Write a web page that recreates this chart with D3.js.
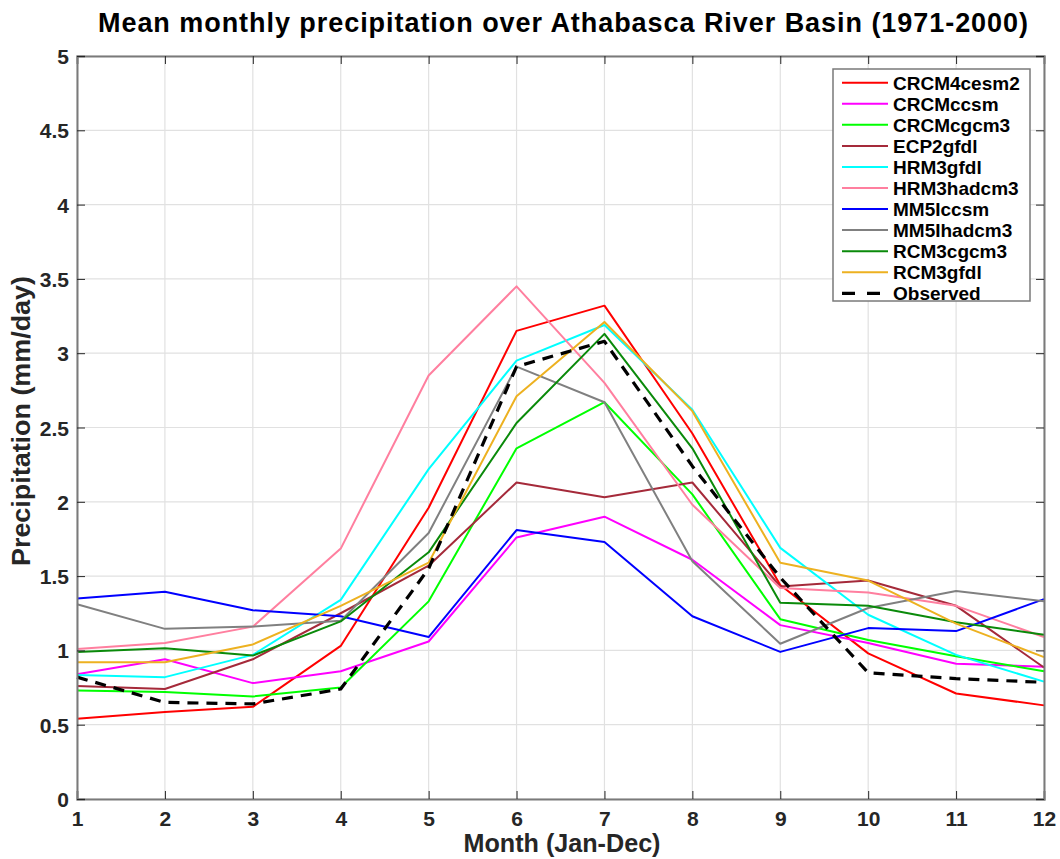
<!DOCTYPE html>
<html>
<head>
<meta charset="utf-8">
<script src="https://cdn.jsdelivr.net/npm/d3@7"></script>
<style>
  html, body { margin: 0; padding: 0; background: #fff; }
  svg text { font-family: "Liberation Sans", Arial, Helvetica, sans-serif; font-weight: bold; }
</style>
</head>
<body>
<svg id="chart" width="1060" height="859"></svg>
<script>
// Months 1..12
const months = [1, 2, 3, 4, 5, 6, 7, 8, 9, 10, 11, 12];

// Mean monthly precipitation (mm/day), 1971-2000
const CRCM4cesm2 = [0.54, 0.585, 0.62, 1.03, 1.96, 3.15, 3.32, 2.46, 1.44, 0.98, 0.71, 0.63];
const CRCMccsm   = [0.84, 0.94, 0.78, 0.86, 1.06, 1.76, 1.90, 1.61, 1.17, 1.05, 0.91, 0.89];
const CRCMcgcm3  = [0.73, 0.72, 0.69, 0.75, 1.33, 2.36, 2.67, 2.05, 1.21, 1.07, 0.96, 0.86];
const ECP2gfdl   = [0.76, 0.74, 0.94, 1.25, 1.57, 2.13, 2.03, 2.13, 1.43, 1.47, 1.30, 0.885];
const HRM3gfdl   = [0.835, 0.82, 0.97, 1.34, 2.22, 2.95, 3.19, 2.62, 1.69, 1.24, 0.97, 0.79];
const HRM3hadcm3 = [1.01, 1.05, 1.16, 1.685, 2.85, 3.45, 2.80, 1.98, 1.42, 1.39, 1.30, 1.09];
const MM5Iccsm   = [1.35, 1.395, 1.27, 1.23, 1.09, 1.81, 1.73, 1.23, 0.99, 1.15, 1.13, 1.345];
const MM5Ihadcm3 = [1.31, 1.145, 1.16, 1.20, 1.79, 2.91, 2.67, 1.60, 1.045, 1.285, 1.40, 1.33];
const RCM3cgcm3  = [0.99, 1.015, 0.965, 1.195, 1.66, 2.53, 3.13, 2.36, 1.32, 1.30, 1.19, 1.105];
const RCM3gfdl   = [0.92, 0.92, 1.04, 1.30, 1.59, 2.71, 3.21, 2.61, 1.59, 1.47, 1.18, 0.955];
const Observed   = [0.82, 0.65, 0.64, 0.74, 1.55, 2.91, 3.08, 2.24, 1.49, 0.85, 0.81, 0.785];

const seriesNames = ["CRCM4cesm2", "CRCMccsm", "CRCMcgcm3", "ECP2gfdl", "HRM3gfdl",
                     "HRM3hadcm3", "MM5Iccsm", "MM5Ihadcm3", "RCM3cgcm3", "RCM3gfdl", "Observed"];
const seriesValues = [CRCM4cesm2, CRCMccsm, CRCMcgcm3, ECP2gfdl, HRM3gfdl,
                      HRM3hadcm3, MM5Iccsm, MM5Ihadcm3, RCM3cgcm3, RCM3gfdl, Observed];
const seriesColors = ["#ff0000", "#ff00ff", "#00ff00", "#a52a3a", "#00ffff",
                      "#ff7f9f", "#0000ff", "#808080", "#0a8a0a", "#edb120", "#000000"];

const xTicks = months;
const yTicks = [0, 0.5, 1, 1.5, 2, 2.5, 3, 3.5, 4, 4.5, 5];

const svg = d3.select("#chart");
const L = 77, R = 1044, T = 56, B = 799;

const x = d3.scaleLinear().domain([1, 12]).range([L, R]);
const y = d3.scaleLinear().domain([0, 5]).range([B, T]);

const axisColor = "#7a7a7a";
const textColor = "#262626";

// Grid
const grid = svg.append("g");
grid.selectAll("line.vx").data(xTicks).join("line")
  .attr("x1", d => x(d)).attr("x2", d => x(d)).attr("y1", T).attr("y2", B)
  .attr("stroke", "#e1e1e1").attr("stroke-width", 1.2);
grid.selectAll("line.hy").data(yTicks).join("line")
  .attr("x1", L).attr("x2", R).attr("y1", d => y(d)).attr("y2", d => y(d))
  .attr("stroke", "#e1e1e1").attr("stroke-width", 1.2);

// Series lines
const line = d3.line().x((d, i) => x(months[i])).y(d => y(d));
const lines = svg.append("g");
seriesValues.forEach((vals, k) => {
  const obs = seriesNames[k] === "Observed";
  lines.append("path")
    .attr("d", line(vals))
    .attr("fill", "none")
    .attr("stroke", seriesColors[k])
    .attr("stroke-width", obs ? 3.2 : 2)
    .attr("stroke-dasharray", obs ? "11,8" : null)
    .attr("stroke-linejoin", "round");
});

// Axes (ticks inward, mirrored on the opposite sides)
const tickLen = 8;
const ax = svg.append("g");
const xb = ax.append("g").attr("transform", `translate(0,${B})`)
  .call(d3.axisBottom(x).tickValues(xTicks).tickSize(-tickLen).tickFormat(d3.format("d")));
const xt = ax.append("g").attr("transform", `translate(0,${T})`)
  .call(d3.axisTop(x).tickValues(xTicks).tickSize(-tickLen).tickFormat(""));
const yl = ax.append("g").attr("transform", `translate(${L},0)`)
  .call(d3.axisLeft(y).tickValues(yTicks).tickSize(-tickLen).tickFormat(d => d3.format("")(d)));
const yr = ax.append("g").attr("transform", `translate(${R},0)`)
  .call(d3.axisRight(y).tickValues(yTicks).tickSize(-tickLen).tickFormat(""));

[xb, xt, yl, yr].forEach(g => {
  g.select(".domain").attr("stroke", axisColor).attr("stroke-width", 2);
  g.selectAll(".tick line").attr("stroke", textColor).attr("stroke-width", 1);
  g.selectAll(".tick text").attr("fill", textColor).attr("font-size", 21)
    .style("font-family", '"Liberation Sans", Arial, sans-serif').style("font-weight", "bold");
});
xb.selectAll(".tick text").attr("dy", "0").attr("y", 27);
yl.selectAll(".tick text").attr("x", -8).attr("dy", "0.36em");

// Title and axis labels
svg.append("text").attr("x", 563).attr("y", 32).attr("text-anchor", "middle")
  .attr("font-size", 27).attr("fill", "#000")
  .attr("textLength", 930).attr("lengthAdjust", "spacing")
  .text("Mean monthly precipitation over Athabasca River Basin (1971-2000)");
svg.append("text").attr("x", 562).attr("y", 852).attr("text-anchor", "middle")
  .attr("font-size", 25).attr("fill", textColor)
  .attr("textLength", 197).attr("lengthAdjust", "spacingAndGlyphs")
  .text("Month (Jan-Dec)");
svg.append("text").attr("transform", `translate(30,421) rotate(-90)`)
  .attr("text-anchor", "middle").attr("font-size", 26).attr("fill", textColor)
  .attr("textLength", 290).attr("lengthAdjust", "spacingAndGlyphs")
  .text("Precipitation (mm/day)");

// Legend
const lg = svg.append("g");
const lgX = 833, lgY = 69, lgW = 197, lgH = 232, rowH = 21.06;
lg.append("rect").attr("x", lgX).attr("y", lgY).attr("width", lgW).attr("height", lgH)
  .attr("fill", "#fff").attr("stroke", axisColor).attr("stroke-width", 1.5);
seriesNames.forEach((name, k) => {
  const cy = lgY + 13.7 + k * rowH;
  const obs = name === "Observed";
  lg.append("line").attr("x1", lgX + 9).attr("x2", lgX + 55).attr("y1", cy).attr("y2", cy)
    .attr("stroke", seriesColors[k]).attr("stroke-width", obs ? 3.2 : 2)
    .attr("stroke-dasharray", obs ? "13,12" : null);
  lg.append("text").attr("x", lgX + 60).attr("y", cy).attr("dy", "0.36em")
    .attr("font-size", 19).attr("fill", "#000").text(name);
});
</script>
</body>
</html>
